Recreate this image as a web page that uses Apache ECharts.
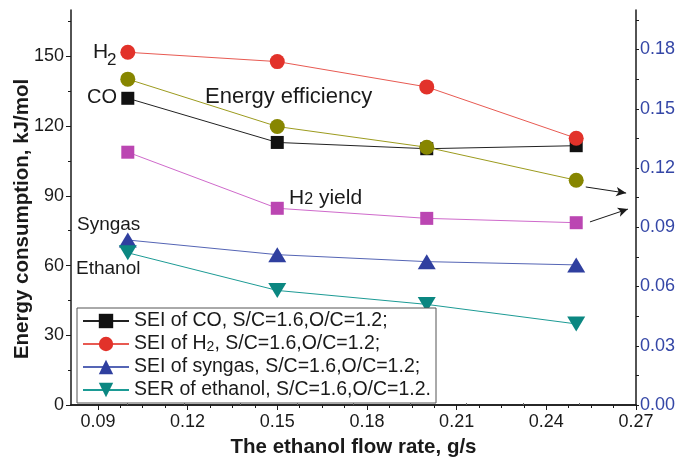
<!DOCTYPE html>
<html>
<head>
<meta charset="utf-8">
<script src="https://cdn.jsdelivr.net/npm/echarts@6/dist/echarts.min.js"></script>
<style>
  html, body { margin: 0; padding: 0; background: #fff; }
  #chart { width: 679px; height: 461px; }
</style>
</head>
<body>
<div id="chart"></div>
<script>
// Ethanol flow rate (g/s)
const flowRates = [0.10, 0.15, 0.20, 0.25];

// Left axis: specific energy input / requirement (kJ/mol)
const seiCO = [132, 113, 110.3, 111.6];
const seiH2 = [151.8, 147.8, 136.9, 114.8];
const seiSyngas = [71.0, 64.7, 61.7, 60.3];
const serEthanol = [65.5, 49.3, 43.3, 34.9];

// Right axis: energy efficiency and H2 yield
const energyEfficiency = [0.165, 0.141, 0.1305, 0.1138];
const h2Yield = [0.128, 0.0996, 0.0945, 0.0923];

// Tick values
const xTicks = [0.09, 0.12, 0.15, 0.18, 0.21, 0.24, 0.27];
const xMinorTicks = [0.0975, 0.105, 0.1125, 0.1275, 0.135, 0.1425, 0.1575, 0.165, 0.1725,
  0.1875, 0.195, 0.2025, 0.2175, 0.225, 0.2325, 0.2475, 0.255, 0.2625];
const leftTicks = [0, 30, 60, 90, 120, 150];
const leftMinorTicks = [15, 45, 75, 105, 135, 165];
const rightTicks = [0, 0.03, 0.06, 0.09, 0.12, 0.15, 0.18];
const rightMinorTicks = [0.015, 0.045, 0.075, 0.105, 0.135, 0.165, 0.195];

// Arrows pointing from the two right-axis curves to their axis
const arrowFrom = [[0.2532, 0.1104], [0.2546, 0.0927]];
const arrowTo = [[0.2667, 0.1073], [0.2673, 0.0992]];

const X_MIN = 0.081, X_MAX = 0.27;
const FONT = '"Liberation Sans", Arial, Helvetica, sans-serif';
const INK = '#1a1a1a';

const names = [
  'SEI of CO, S/C=1.6,O/C=1.2;',
  'SEI of H2, S/C=1.6,O/C=1.2;',
  'SEI of syngas, S/C=1.6,O/C=1.2;',
  'SER of ethanol, S/C=1.6,O/C=1.2.'
];

const pairs = ys => flowRates.map((x, i) => [x, ys[i]]);

function lineSeries(name, ys, yAxisIndex, symbol, size, fill, lineColor, extra) {
  return Object.assign({
    name, type: 'line', xAxisIndex: 0, yAxisIndex,
    data: pairs(ys), symbol, symbolSize: size, showAllSymbol: true,
    itemStyle: { color: fill, borderWidth: 0 },
    lineStyle: { color: lineColor, width: 1 },
    emphasis: { disabled: true }, animation: false
  }, extra || {});
}

// top frame is split into ten equal parts
const topTicks = [];
for (let k = 1; k < 10; k++) topTicks.push(X_MIN + k * (X_MAX - X_MIN) / 10);

const chart = echarts.init(document.getElementById('chart'), null, { renderer: 'canvas' });
chart.setOption({
  backgroundColor: '#fff',
  animation: false,
  textStyle: { fontFamily: FONT },
  grid: { left: 71, right: 43, top: 10, bottom: 56, containLabel: false, outerBoundsMode: 'none' },
  xAxis: [
    {
      type: 'value', min: X_MIN, max: X_MAX, position: 'bottom',
      name: 'The ethanol flow rate, g/s', nameLocation: 'middle', nameGap: 32,
      nameTextStyle: { fontSize: 20.5, fontWeight: 'bold', color: INK, fontFamily: FONT },
      axisLine: { lineStyle: { color: INK, width: 1.5 } },
      axisTick: { customValues: xTicks, length: 5, lineStyle: { color: INK } },
      axisLabel: { customValues: xTicks, formatter: v => v.toFixed(2), fontSize: 18, color: INK, margin: 8, fontFamily: FONT },
      splitLine: { show: false }
    },
    {
      type: 'value', min: X_MIN, max: X_MAX, position: 'bottom',
      axisLine: { show: false },
      axisTick: { customValues: xMinorTicks, length: 3, lineStyle: { color: INK } },
      axisLabel: { show: false }, splitLine: { show: false }
    },
    {
      type: 'value', min: X_MIN, max: X_MAX, position: 'top',
      axisLine: { lineStyle: { color: INK, width: 1.5 } },
      axisTick: { customValues: topTicks, length: 2, lineStyle: { color: '#666' } },
      axisLabel: { show: false }, splitLine: { show: false }
    }
  ],
  yAxis: [
    {
      type: 'value', min: 0, max: 170, position: 'left',
      axisLine: { show: true, lineStyle: { color: INK, width: 1.5 } },
      axisTick: { show: true, customValues: leftTicks, length: 5, lineStyle: { color: INK } },
      axisLabel: { customValues: leftTicks, fontSize: 18, color: INK, margin: 7, fontFamily: FONT },
      splitLine: { show: false }
    },
    {
      type: 'value', min: 0, max: 0.2, position: 'right',
      axisLine: { show: true, lineStyle: { color: INK, width: 1.5 } },
      axisTick: { show: true, customValues: rightTicks, length: 3, lineStyle: { color: INK } },
      axisLabel: { customValues: rightTicks, formatter: v => v.toFixed(2), fontSize: 18, color: '#3446a6', margin: 4, fontFamily: FONT },
      splitLine: { show: false }
    },
    {
      type: 'value', min: 0, max: 170, position: 'left',
      axisLine: { show: false },
      axisTick: { show: true, customValues: leftMinorTicks, length: 3, lineStyle: { color: INK } },
      axisLabel: { show: false }, splitLine: { show: false }
    },
    {
      type: 'value', min: 0, max: 0.2, position: 'right',
      axisLine: { show: false },
      axisTick: { show: true, customValues: rightMinorTicks, length: 3, lineStyle: { color: INK } },
      axisLabel: { show: false }, splitLine: { show: false }
    }
  ],
  legend: {
    orient: 'vertical', left: 77, top: 308,
    data: names,
    itemWidth: 46, itemHeight: 18, itemGap: 3,
    padding: [3, 5, 3, 5],
    borderColor: '#555', borderWidth: 1, backgroundColor: '#fff',
    textStyle: {
      fontSize: 19.5, color: INK, fontFamily: FONT,
      rich: { sub: { fontSize: 14, color: INK, fontFamily: FONT, verticalAlign: 'bottom', padding: [5, 0, 0, 0] } }
    },
    formatter: n => n.replace('H2', 'H{sub|2}'),
    selectedMode: false
  },
  series: [
    lineSeries(names[0], seiCO, 0, 'rect', 13, '#111111', '#222222'),
    lineSeries(names[1], seiH2, 0, 'circle', 15, '#e2322a', '#e85a52'),
    lineSeries(names[2], seiSyngas, 0, 'triangle', [18, 15], '#2f3f9f', '#5565b5'),
    lineSeries(names[3], serEthanol, 0, 'triangle', [18, 15], '#0b8781', '#1c9b95', { symbolRotate: 180 }),
    lineSeries('Energy efficiency', energyEfficiency, 1, 'circle', 15, '#878600', '#9c9b1e', {
      markLine: {
        silent: true, symbol: ['none', 'arrow'], symbolSize: [7, 10],
        label: { show: false },
        lineStyle: { color: INK, width: 1, type: 'solid' },
        data: arrowFrom.map((p, i) => [{ coord: p }, { coord: arrowTo[i] }]),
        animation: false
      }
    }),
    lineSeries('H2 yield', h2Yield, 1, 'rect', 13, '#bb46b2', '#cf6acb')
  ],
  graphic: [
    // left axis title
    { type: 'text', x: 22, y: 219, rotation: Math.PI / 2,
      style: { text: 'Energy consumption, kJ/mol', fontSize: 20.5, fontWeight: 'bold', fontFamily: FONT, fill: INK, align: 'center', verticalAlign: 'middle' } },
    // curve labels
    { type: 'text', x: 93, y: 52, style: { text: 'H', fontSize: 21, fontFamily: FONT, fill: INK, align: 'left', verticalAlign: 'middle' } },
    { type: 'text', x: 107, y: 60, style: { text: '2', fontSize: 17, fontFamily: FONT, fill: INK, align: 'left', verticalAlign: 'middle' } },
    { type: 'text', x: 117, y: 97, style: { text: 'CO', fontSize: 20, fontFamily: FONT, fill: INK, align: 'right', verticalAlign: 'middle' } },
    { type: 'text', x: 205, y: 97, style: { text: 'Energy efficiency', fontSize: 22, fontFamily: FONT, fill: INK, align: 'left', verticalAlign: 'middle' } },
    { type: 'text', x: 289, y: 198, style: {
        text: '{b|H}{s|2}{b| yield}', fontFamily: FONT, fill: INK, align: 'left', verticalAlign: 'middle',
        rich: { b: { fontSize: 21, fontFamily: FONT, fill: INK }, s: { fontSize: 16, fontFamily: FONT, fill: INK, verticalAlign: 'bottom', padding: [0, 0, 1, 0] } }
      } },
    { type: 'text', x: 77, y: 225, style: { text: 'Syngas', fontSize: 19, fontFamily: FONT, fill: INK, align: 'left', verticalAlign: 'middle' } },
    { type: 'text', x: 76, y: 269, style: { text: 'Ethanol', fontSize: 19, fontFamily: FONT, fill: INK, align: 'left', verticalAlign: 'middle' } }
  ]
});
</script>
</body>
</html>
